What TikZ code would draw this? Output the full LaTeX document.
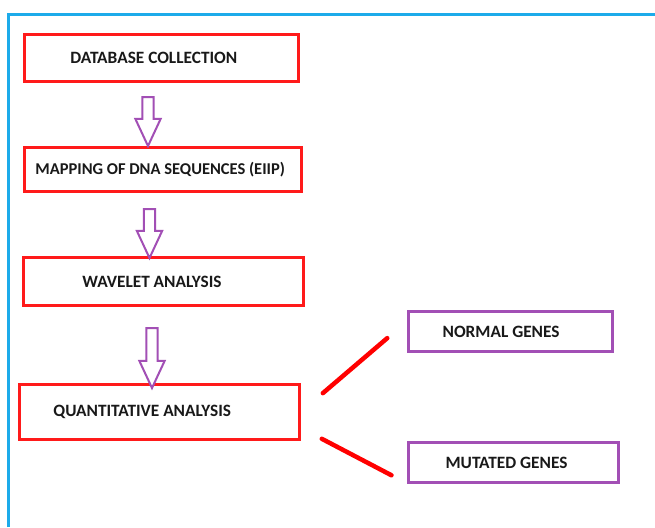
\documentclass[tikz,border=0pt]{standalone}
\usepackage{fontspec}
\setmainfont{Carlito}
\usetikzlibrary{positioning,calc,shapes.arrows}
\definecolor{flowred}{HTML}{FF1A1A}
\definecolor{flowpurple}{HTML}{A24FB5}
\definecolor{framecyan}{HTML}{1CABEA}
\tikzset{
    stagebox/.style={draw=flowred,line width=2.6pt,fill=white,inner sep=0pt},
    classbox/.style={draw=flowpurple,line width=2.2pt,fill=white,inner sep=0pt},
    boxtext/.style={font=\bfseries\fontsize{17.3}{19}\selectfont,text=black!90,inner sep=0pt},
    flowarrow/.style={single arrow,draw=flowpurple,line width=2pt,fill=white,rotate=-90,
        inner xsep=0pt,inner ysep=4.6pt,minimum width=23pt,single arrow head extend=7pt,
        single arrow tip angle=50},
    split/.style={draw=red,line width=4.5pt,line cap=round},
    frame/.style={draw=framecyan,line width=2.5pt},
}

\begin{document}
\begin{tikzpicture}[x=1pt,y=-1pt]
    \useasboundingbox[fill=white] (0,0) rectangle (655,527);
    \draw[frame] (8.5,527) -- (8.5,14.5) -- (655,14.5);

    % main pipeline
    \node[stagebox,minimum width=274pt,minimum height=47pt] (db) at (161.5,58) {};
    \node[stagebox,minimum width=277pt,minimum height=44pt] (map) at (163,169.5) {};
    \node[stagebox,minimum width=280pt,minimum height=48pt] (wave) at (163.5,281.5) {};
    \node[stagebox,minimum width=280pt,minimum height=55pt] (quant) at (159.5,412) {};
    \node[boxtext,right=47pt of db.west] (dbtext) {DATABASE COLLECTION};
    \node[boxtext,font=\bfseries\fontsize{16.5}{18}\selectfont,right=12pt of map.west] (maptext) {MAPPING OF DNA SEQUENCES (EIIP)};
    \node[boxtext,right=60pt of wave.west] (wavetext) {WAVELET ANALYSIS};
    \node[boxtext,right=35pt of quant.west] (quanttext) {QUANTITATIVE ANALYSIS};

    % block arrows between the stages
    \node[flowarrow,minimum height=49pt] (a1) at (148,115.5) {};
    \node[flowarrow,minimum height=49pt] (a2) at (149.5,227.5) {};
    \node[flowarrow,minimum height=60pt] (a3) at (152,352) {};

    % result classes
    \node[classbox,minimum width=204pt,minimum height=40pt] (normal) at (510.5,331.5) {};
    \node[classbox,minimum width=210pt,minimum height=40pt] (mutated) at (513.5,462.5) {};
    \node[boxtext,right=35pt of normal.west] (normaltext) {NORMAL GENES};
    \node[boxtext,right=38pt of mutated.west] (mutatedtext) {MUTATED GENES};

    \draw[split,shorten <=29pt,shorten >=26.5pt] (quant.east) -- ($(normal.north west)+(0,10.5)$);
    \draw[split,shorten <=23.7pt,shorten >=18pt] ($(quant.south east)+(0,-13)$) -- (mutated.south west);
\end{tikzpicture}
\end{document}
